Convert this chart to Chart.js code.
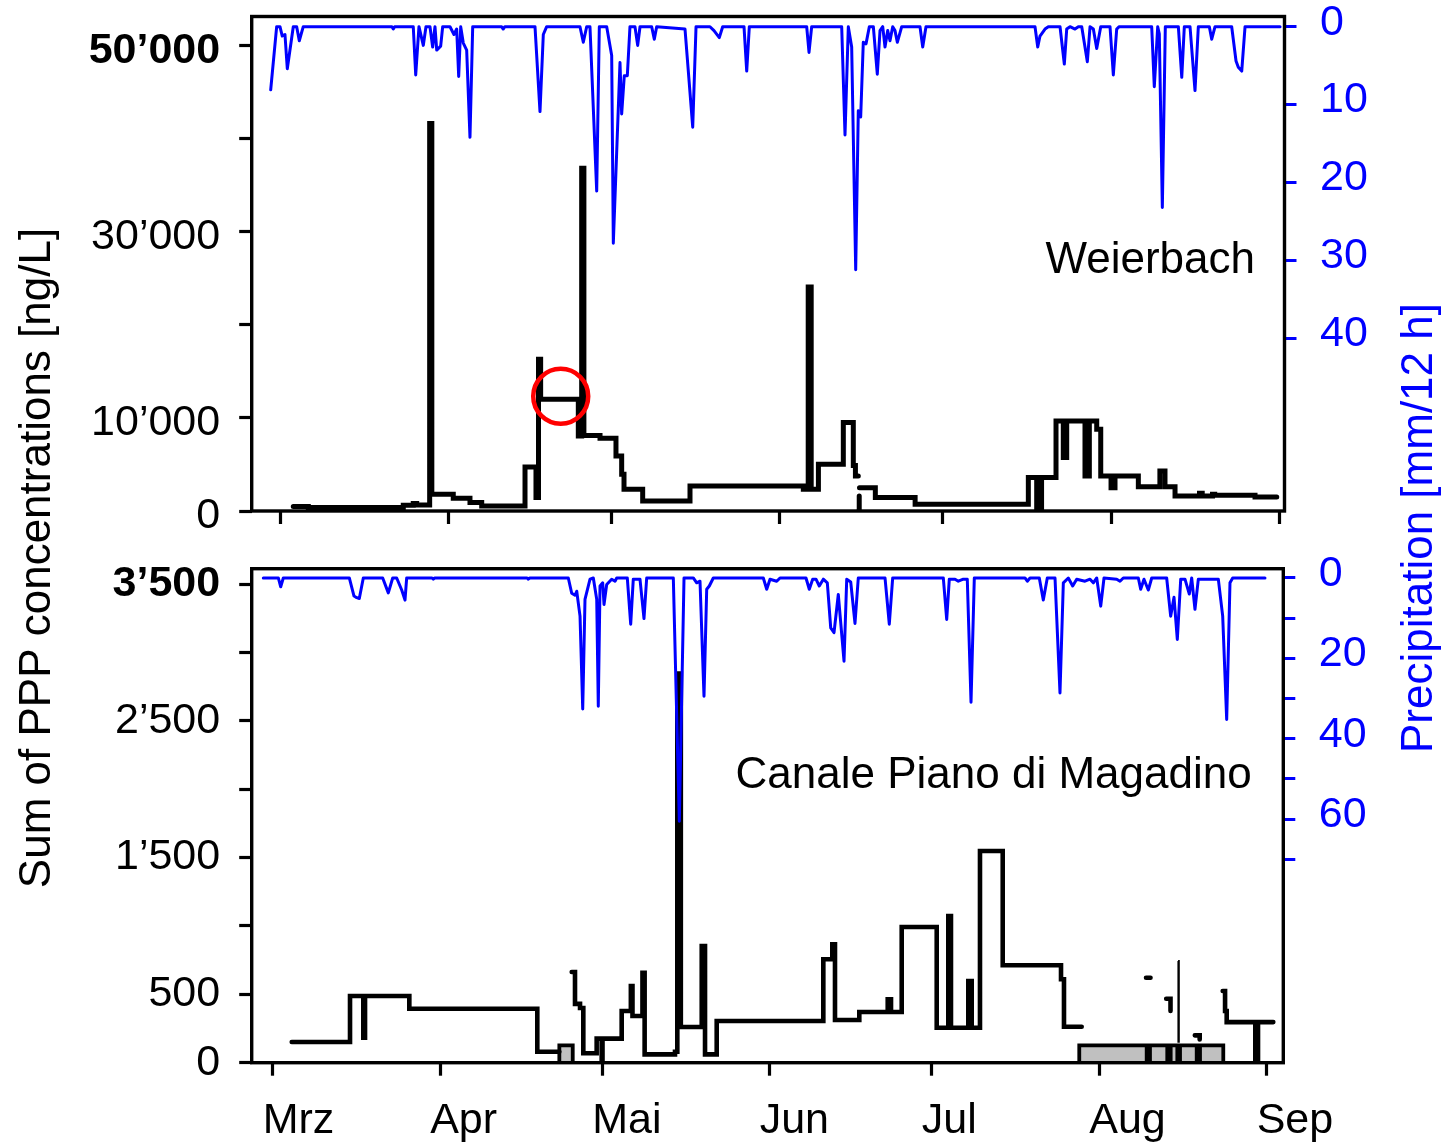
<!DOCTYPE html>
<html>
<head>
<meta charset="utf-8">
<script src="https://cdn.jsdelivr.net/npm/chart.js@4.4.1/dist/chart.umd.min.js"></script>
<style>
  html, body { margin: 0; background: #fff; }
  #wrap { position: relative; width: 1445px; height: 1145px; }
  #wrap canvas { position: absolute; left: 0; top: 0; }
</style>
</head>
<body>
<div id="wrap">
  <canvas id="weier" width="1445" height="1145"></canvas>
  <canvas id="maga" width="1445" height="1145"></canvas>
</div>
<script>
// x values are days since 1 March
const monthDays = [0, 31, 61, 92, 122, 153, 184];
const monthLabels = ['Mrz', 'Apr', 'Mai', 'Jun', 'Jul', 'Aug', 'Sep'];

const weierConcTicks = [0, 10000, 20000, 30000, 40000, 50000];
const weierConcLabels = ['0', '10’000', '', '30’000', '', '50’000'];
const weierRainTicks = [0, 10, 20, 30, 40];
const weierRainLabels = ['0', '10', '20', '30', '40'];
const magaConcTicks = [0, 500, 1000, 1500, 2000, 2500, 3000, 3500];
const magaConcLabels = ['0', '500', '', '1’500', '', '2’500', '', '3’500'];
const magaRainTicks = [0, 10, 20, 30, 40, 50, 60, 70];
const magaRainLabels = ['0', '', '20', '', '40', '', '60', ''];

// Weierbach, sum of PPP [ng/L]: each value holds until the next entry, null = gap
const weierConc = [
  [2.32, 480], [5.09, 370], [22.59, 610], [24.43, 800], [25.06, 650], [27.45, 41630], [27.85, 1800],
  [31.8, 1370], [34.88, 900], [37.04, 540], [45.02, 4730], [47.04, 1440], [47.5, 16310], [47.9, 12010],
  [54.84, 8065], [55.46, 36820], [55.87, 8100], [58.84, 7820], [61.78, 5910], [62.83, 3940], [63.26, 2330],
  [66.7, 1075], [75.42, 2690], [96.3, 2330], [97.2, 24070], [97.75, 2330], [99.08, 5020], [103.67, 9500],
  [105.51, 4900], [105.9, 3760], [106.43, 3760], [106.43, null],
  [106.5, 0], [106.6, 1600], [106.6, null],
  [106.65, 2510], [109.57, 1440], [116.9, 720], [137.76, 3590], [139.3, 180], [140.2, 3590], [142.86, 9670],
  [144.2, 5740], [144.83, 9670], [148.2, 3760], [149.0, 9670], [150.36, 8780], [151.1, 3760], [153.0, 2510],
  [153.73, 3760], [158.03, 2600], [162.0, 4300], [162.94, 2600], [164.79, 1610], [169.3, 1900], [169.8, 1610],
  [171.7, 1800], [172.1, 1700], [179.53, 1500], [183.53, 1500]
];

// Weierbach precipitation [mm/12 h]
const weierRain = [
  [-1.84, 8.1], [-0.74, 0], [-0.13, 0], [0.29, 1.2], [0.79, 1.0], [1.22, 5.4], [2.32, 0], [2.95, 0], [3.43, 1.8], [4.16, 0],
  [20.5, 0], [20.75, 0.3], [21.0, 0],
  [24.43, 0], [24.88, 6.2], [25.48, 0], [26.28, 2.4], [26.77, 0], [27.51, 0], [28.0, 2.6], [28.43, 0], [28.75, 3.0], [29.48, 2.5], [29.85, 0],
  [31.2, 0], [31.93, 1.0], [32.43, 0.3], [32.8, 6.4], [33.17, 0], [33.65, 2.1], [34.27, 3.0], [34.88, 14.2], [35.38, 0],
  [40.7, 0], [41.0, 0.3], [41.3, 0],
  [46.86, 0], [47.78, 10.9], [48.39, 1.0], [49.01, 0],
  [55.15, 0], [55.76, 2.0], [56.38, 0], [56.99, 0], [58.23, 21.1], [58.71, 0],
  [60.07, 0], [60.99, 3.7], [61.29, 27.8], [62.52, 4.6], [62.83, 11.2], [63.31, 6.3], [63.87, 6.3], [64.36, 0],
  [65.28, 0], [65.78, 2.4], [66.21, 0], [68.36, 0], [68.84, 1.6], [69.28, 0],
  [74.5, 0.3], [75.92, 12.9], [76.53, 0],
  [79.1, 0], [79.84, 0.5], [80.82, 1.4], [81.44, 0],
  [85.37, 0], [85.87, 5.7], [86.35, 0],
  [96.92, 0], [97.35, 3.3], [97.84, 0],
  [103.37, 0], [103.98, 13.9], [104.59, 0], [105.21, 2.6], [105.95, 31.2], [106.43, 10.8], [106.87, 11.6], [107.35, 2.0], [107.85, 2.2], [108.46, 0],
  [109.2, 0], [109.93, 6.1], [110.43, 0.5], [110.93, 0], [111.35, 2.6], [111.85, 0.5], [112.27, 1.8], [112.77, 0], [113.19, 0.5], [113.62, 2.0], [114.43, 0],
  [117.8, 0], [118.3, 2.6], [118.9, 0],
  [138.99, 0], [139.49, 2.6], [139.91, 1.2], [140.83, 0.3], [141.44, 0],
  [143.6, 0], [144.39, 4.8], [144.83, 0.3], [145.44, 0], [146.36, 0.3], [146.97, 0],
  [147.6, 0], [148.63, 4.5], [149.13, 0], [149.74, 0.3], [150.36, 2.8], [151.1, 0],
  [152.81, 0], [153.42, 6.2], [154.04, 0.3], [154.5, 0],
  [160.49, 0], [160.97, 7.7], [161.6, 0], [161.89, 0.9], [162.45, 23.2], [163.0, 0],
  [165.4, 0], [166.03, 6.5], [166.5, 0],
  [167.55, 0], [168.47, 8.2], [169.08, 0],
  [171.11, 0], [171.55, 1.6], [172.16, 0],
  [175.23, 0], [176.03, 4.4], [176.45, 5.2], [177.08, 5.7], [177.69, 0], [184.14, 0]
];

// Canale Piano di Magadino, sum of PPP [ng/L]
const magaConc = [
  [3.52, 151], [14.31, 488], [16.77, 183], [17.09, 488], [25.29, 395], [48.98, 80], [53.06, 80], [53.06, null],
  [55.35, 663], [55.96, 430], [56.89, 400], [57.5, 69], [59.97, 176], [60.9, 0], [61.05, 176], [64.6, 378],
  [66.3, 561], [66.6, 341], [68.45, 658], [68.85, 61], [74.47, 80], [74.9, 2846], [75.55, 261], [79.42, 853],
  [80.03, 61], [82.19, 305], [101.93, 756], [103.59, 865], [104.09, 312], [108.59, 371], [113.85, 463],
  [114.46, 371], [116.44, 992], [122.92, 256], [125.07, 1072], [125.56, 256], [128.77, 597], [129.4, 256],
  [130.93, 1548], [135.14, 712], [145.93, 610], [146.48, 263], [149.76, 263], [149.76, null],
  [161.67, 621], [162.5, 621], [162.5, null],
  [165.4, 468], [166.2, 378], [166.2, null],
  [170.7, 200], [171.6, 170], [171.6, null],
  [175.86, 524], [176.3, 378], [176.6, 297], [181.9, 0], [182.4, 297], [185.23, 297]
];
const magaThin = [[167.6, 743], [167.7, 146]];

// grey periods (Magadino)
const magaBoxStart = [53.06, 149.31, 162.4, 166.23, 167.96, 171.66];
const magaBoxEnd = [55.54, 161.79, 165.6, 167.46, 171.05, 175.97];
const magaBoxTop = 127;

// Magadino precipitation [mm/12 h]
const magaRain = [
  [-1.74, 0], [1.04, 0], [1.48, 2.2], [1.96, 0],
  [14.18, 0], [15.05, 4.5], [15.55, 4.9], [16.03, 5.1], [16.77, 0],
  [20.36, 0], [21.4, 3.7], [22.21, 0], [22.95, 0], [23.88, 3.0], [24.49, 5.5], [24.8, 0],
  [29.5, 0], [29.73, 0.3], [30.0, 0],
  [47.1, 0], [47.32, 0.3], [47.6, 0],
  [54.72, 0], [55.35, 3.8], [55.96, 4.3], [56.28, 3.3], [56.89, 9.5], [57.39, 32.6], [57.81, 5.3], [58.74, 0.3], [59.35, 0],
  [59.98, 5.3], [60.27, 31.9], [60.59, 2.0], [61.09, 1.2], [61.33, 6.6], [61.83, 1.6], [62.75, 0.3], [63.37, 0.8], [63.68, 0],
  [65.64, 0], [66.27, 11.5], [66.75, 0.3], [67.99, 0.3], [68.73, 10.1], [69.23, 0],
  [74.16, 0], [75.27, 60.5], [76.14, 0],
  [77.86, 0], [78.49, 1.2], [79.1, 0.8], [79.84, 29.4], [80.34, 2.8], [80.82, 2.0], [81.56, 0],
  [90.82, 0], [91.45, 2.8], [92.06, 0.3], [93.3, 0.8], [93.91, 0],
  [98.72, 0], [99.33, 2.8], [99.96, 0.3], [100.57, 0.3], [101.18, 2.0], [101.93, 0.3], [102.67, 1.2], [103.3, 12.4],
  [103.91, 13.6], [104.7, 4.1], [105.76, 20.7], [106.26, 0.3], [107.0, 1.0], [107.79, 11.3], [108.4, 0],
  [113.35, 0], [114.14, 11.5], [114.77, 0],
  [124.14, 0], [124.77, 10.3], [125.25, 0.3], [126.31, 0.3], [126.92, 0.8], [127.84, 0.3], [128.58, 0.3], [129.27, 30.9], [129.88, 0],
  [139.26, 0], [139.69, 0.8], [140.19, 0],
  [141.91, 0], [142.65, 5.5], [143.39, 0], [144.82, 0], [145.74, 28.6], [146.36, 1.2], [147.28, 0], [148.09, 2.0],
  [148.83, 0.3], [150.37, 0.8], [151.3, 0.3], [151.91, 1.2], [152.54, 0], [153.28, 7.0], [153.89, 0],
  [156.24, 0.3], [156.85, 0.8], [157.46, 0],
  [160.24, 0], [160.68, 2.8], [161.29, 0.3], [162.09, 3.0], [162.72, 0],
  [165.49, 0], [166.23, 9.5], [166.85, 4.8], [167.46, 15.3], [168.09, 0.3], [168.88, 0.3], [169.68, 4.0], [170.12, 0],
  [170.73, 7.8], [171.35, 0.3],
  [175.05, 0.3], [175.86, 9.5], [176.6, 35.2], [177.21, 1.2], [177.71, 0], [183.69, 0]
];

// red marker in the Weierbach panel [day, ng/L]
const markerAt = [51.6, 12330];

const FONT = "'Liberation Sans', Arial, sans-serif";
const BLUE = '#0000ff';

const toXY = pairs => pairs.map(([x, y]) => ({ x: x, y: y }));

function boxOutline(starts, ends, top) {
  const pts = [];
  starts.forEach((s, i) => {
    pts.push({ x: s, y: 0 }, { x: s, y: top }, { x: ends[i], y: top }, { x: ends[i], y: 0 }, { x: ends[i], y: null });
  });
  return pts;
}

// fixed axis sizes so both panels line up with the original
function fixSize(prop, size) {
  return s => {
    s[prop] = size;
    s.paddingTop = 0; s.paddingBottom = 0; s.paddingLeft = 0; s.paddingRight = 0;
  };
}

function tickFont(boldValue) {
  return ctx => ({ family: FONT, size: 43, weight: ctx.tick && ctx.tick.value === boldValue ? 'bold' : 'normal' });
}

function xAxis(min, max, height, showLabels) {
  return {
    type: 'linear', position: 'bottom', min: min, max: max, bounds: 'data',
    afterFit: fixSize('height', height),
    afterBuildTicks: s => { s.ticks = monthDays.map(v => ({ value: v })); },
    ticks: {
      display: showLabels, autoSkip: false, maxRotation: 0, align: 'start', labelOffset: -10,
      padding: 20, color: '#000', font: { family: FONT, size: 43 },
      callback: (v, i) => monthLabels[i]
    },
    grid: { drawOnChartArea: false, drawTicks: true, tickLength: 13, tickWidth: 3.2, tickColor: '#000' },
    border: { display: false }
  };
}

function concAxis(max, tickVals, labels, boldValue, shift) {
  return {
    type: 'linear', position: 'left', min: 0, max: max, bounds: 'data',
    afterFit: fixSize('width', 251.7),
    afterBuildTicks: s => { s.ticks = tickVals.map(v => ({ value: v })); },
    ticks: { autoSkip: false, padding: 19, labelOffset: shift, color: '#000', font: tickFont(boldValue), callback: (v, i) => labels[i] },
    grid: { drawOnChartArea: false, drawTicks: true, tickLength: 12.5, tickWidth: 3.2, tickColor: '#000' },
    border: { display: false }
  };
}

function rainAxis(min, max, width, tickVals, labels) {
  return {
    type: 'linear', position: 'right', reverse: true, min: min, max: max, bounds: 'data',
    afterFit: fixSize('width', width),
    afterBuildTicks: s => { s.ticks = tickVals.map(v => ({ value: v })); },
    ticks: { autoSkip: false, padding: 23.5, labelOffset: -4, color: BLUE, font: { family: FONT, size: 43 }, callback: (v, i) => labels[i] },
    grid: { drawOnChartArea: false, drawTicks: true, tickLength: 12, tickWidth: 3, tickColor: BLUE },
    border: { display: false }
  };
}

const frame = {
  id: 'frame',
  afterDatasetsDraw(chart) {
    const { ctx, chartArea: a } = chart;
    ctx.save();
    ctx.strokeStyle = '#000';
    ctx.lineWidth = 3.4;
    ctx.strokeRect(a.left, a.top, a.right - a.left, a.bottom - a.top);
    ctx.restore();
  }
};

const panelName = {
  id: 'panelName',
  afterDatasetsDraw(chart, args, opts) {
    const { ctx, chartArea: a } = chart;
    ctx.save();
    ctx.font = '44px ' + FONT;
    ctx.fillStyle = '#000';
    ctx.textAlign = 'right';
    ctx.textBaseline = 'alphabetic';
    ctx.fillText(opts.text, a.right - opts.dx, a.top + opts.dy);
    ctx.restore();
  }
};

const marker = {
  id: 'marker',
  afterDatasetsDraw(chart, args, opts) {
    if (!opts.at) return;
    const ctx = chart.ctx;
    const x = chart.scales.x.getPixelForValue(opts.at[0]);
    const y = chart.scales.y.getPixelForValue(opts.at[1]);
    ctx.save();
    ctx.strokeStyle = '#ff0000';
    ctx.lineWidth = 4.5;
    ctx.beginPath();
    ctx.arc(x, y, 27.5, 0, Math.PI * 2);
    ctx.stroke();
    ctx.restore();
  }
};

// the two axis titles span both panels
const sideTitles = {
  id: 'sideTitles',
  afterDraw(chart) {
    const ctx = chart.ctx;
    ctx.save();
    ctx.font = '44px ' + FONT;
    ctx.textAlign = 'center';
    ctx.textBaseline = 'alphabetic';
    ctx.fillStyle = '#000';
    ctx.translate(50, 558);
    ctx.rotate(-Math.PI / 2);
    ctx.fillText('Sum of PPP concentrations [ng/L]', 0, 0);
    ctx.restore();
    ctx.save();
    ctx.font = '44px ' + FONT;
    ctx.textAlign = 'center';
    ctx.textBaseline = 'alphabetic';
    ctx.fillStyle = BLUE;
    ctx.translate(1432, 528);
    ctx.rotate(-Math.PI / 2);
    ctx.fillText('Precipitation [mm/12 h]', 0, 0);
    ctx.restore();
  }
};

const lineDefaults = { pointRadius: 0, tension: 0, spanGaps: false };
const rainStyle = { borderColor: BLUE, borderWidth: 3, borderJoinStyle: 'round', borderCapStyle: 'round' };

new Chart(document.getElementById('weier'), {
  type: 'line',
  data: {
    datasets: [
      Object.assign({ data: toXY(weierRain), yAxisID: 'yR' }, rainStyle, lineDefaults),
      Object.assign({ data: toXY(weierConc), yAxisID: 'y', stepped: true, borderColor: '#000', borderWidth: 5, borderCapStyle: 'round', borderJoinStyle: 'miter' }, lineDefaults)
    ]
  },
  options: {
    responsive: false, animation: false, events: [],
    layout: { padding: { top: 16.5, left: 0, right: 0, bottom: 0 } },
    scales: {
      x: xAxis(-5.34, 184.96, 634, false),
      y: concAxis(53140, weierConcTicks, weierConcLabels, 50000, 5),
      yR: rainAxis(-1.31, 62.17, 160.5, weierRainTicks, weierRainLabels)
    },
    plugins: {
      legend: { display: false }, tooltip: { enabled: false },
      panelName: { text: 'Weierbach', dx: 29.5, dy: 256 },
      marker: { at: markerAt }
    }
  },
  plugins: [frame, panelName, marker]
});

new Chart(document.getElementById('maga'), {
  type: 'line',
  data: {
    datasets: [
      Object.assign({ data: toXY(magaRain), yAxisID: 'yR' }, rainStyle, lineDefaults),
      Object.assign({ data: toXY(magaConc), yAxisID: 'y', stepped: true, borderColor: '#000', borderWidth: 4.6, borderCapStyle: 'round', borderJoinStyle: 'miter' }, lineDefaults),
      Object.assign({ data: toXY(magaThin), yAxisID: 'y', stepped: true, borderColor: '#000', borderWidth: 2.4 }, lineDefaults),
      Object.assign({ data: boxOutline(magaBoxStart, magaBoxEnd, magaBoxTop), yAxisID: 'y', fill: 'origin',
        backgroundColor: '#c0c0c0', borderColor: '#000', borderWidth: 3.8 }, lineDefaults)
    ]
  },
  options: {
    responsive: false, animation: false, events: [],
    layout: { padding: { top: 568.7, left: 0, right: 0, bottom: 0 } },
    scales: {
      x: xAxis(-3.89, 187.08, 82.3, true),
      y: concAxis(3612, magaConcTicks, magaConcLabels, 3500, 0),
      yR: rainAxis(-2.31, 120.6, 161.7, magaRainTicks, magaRainLabels)
    },
    plugins: {
      legend: { display: false }, tooltip: { enabled: false },
      panelName: { text: 'Canale Piano di Magadino', dx: 31.6, dy: 219 },
      marker: {}
    }
  },
  plugins: [frame, panelName, marker, sideTitles]
});
</script>
</body>
</html>
